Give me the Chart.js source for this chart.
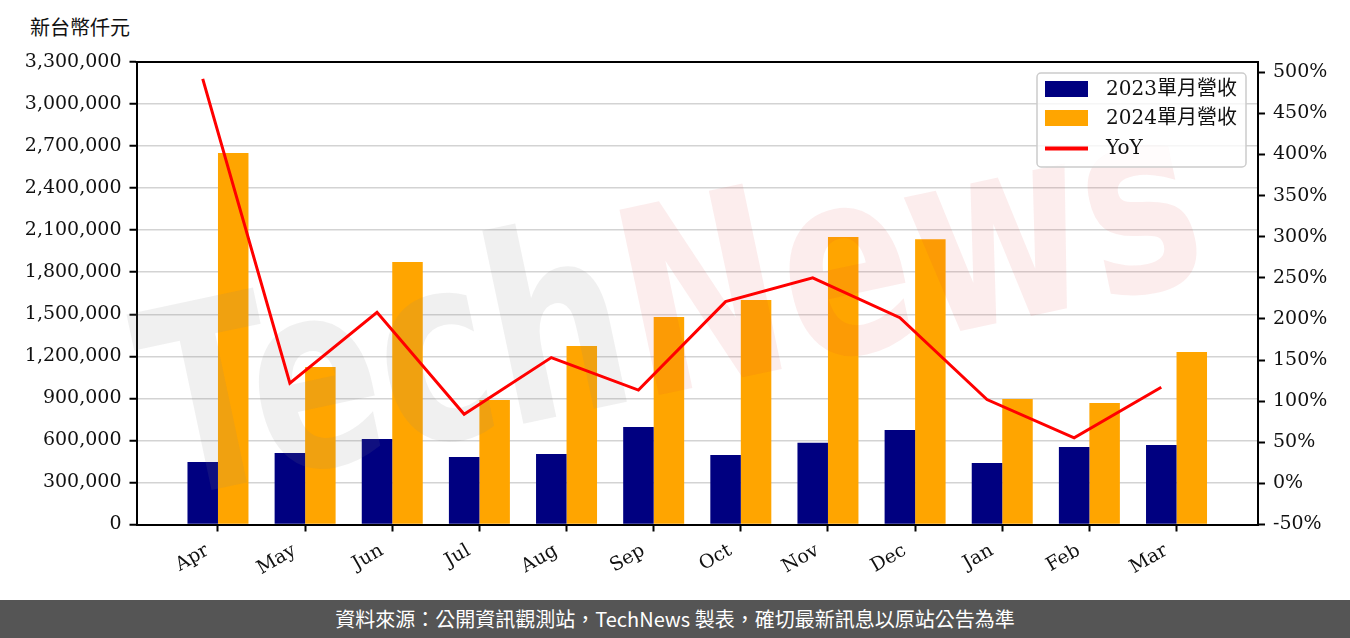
<!DOCTYPE html>
<html lang="zh-Hant">
<head>
<meta charset="UTF-8">
<title>單月營收</title>
<style>
    body { margin: 0; padding: 0; background: #fff; width: 1350px; height: 638px; overflow: hidden; position: relative; }
    #unit {
        position: absolute; left: 30px; top: 12px;
        font: 20px "DejaVu Serif", "Noto Sans CJK TC", serif; color: #111;
    }
    #chart { position: absolute; left: 0; top: 0; }
    footer {
        position: absolute; left: 0; top: 600px; width: 1350px; height: 38px;
        background: #555555; color: #fff; text-align: center;
        font: 20px "Noto Sans CJK TC", "Noto Sans", sans-serif; line-height: 38px;
    }
</style>
<script src="https://cdn.jsdelivr.net/npm/chart.js"></script>
</head>
<body>
<div id="unit">新台幣仟元</div>
<canvas id="chart" width="1350" height="600"></canvas>
<footer>資料來源：公開資訊觀測站，TechNews 製表，確切最新訊息以原站公告為準</footer>

<script>
    const months = ['Apr', 'May', 'Jun', 'Jul', 'Aug', 'Sep', 'Oct', 'Nov', 'Dec', 'Jan', 'Feb', 'Mar'];
    const rev2023 = [446000, 510000, 610000, 482000, 503000, 696000, 496000, 584000, 674000, 439000, 553000, 567000];
    const rev2024 = [2651000, 1124000, 1873000, 888000, 1274000, 1481000, 1602000, 2051000, 2035000, 895000, 867000, 1231000];
    const yoy = [492, 122, 208, 84, 153, 113.5, 221, 250, 201.5, 102, 55.5, 117];

    const FONT = '"DejaVu Serif", "Noto Sans CJK TC", serif';
    const barW = 0.35;   // bar width in category units

    // watermark goes between the bars and the line
    const watermark = {
        id: 'watermark',
        beforeDatasetDraw(chart, args) {
            if (args.meta.type !== 'line') return;
            const c = chart.ctx;
            c.save();
            c.translate(165, 500);
            c.rotate(-12 * Math.PI / 180);
            c.scale(0.74, 1);
            c.font = 'bold 260px "DejaVu Sans"';
            c.fillStyle = 'rgba(128,128,128,0.12)';
            c.fillText('Tech', 0, 0);
            const w = c.measureText('Tech').width;
            c.fillStyle = 'rgba(220,60,60,0.09)';
            c.fillText('News', w, 0);
            c.restore();
        }
    };

    const frame = {
        id: 'frame',
        afterDraw(chart) {
            const c = chart.ctx, a = chart.chartArea;
            c.save();
            c.strokeStyle = '#000';
            c.lineWidth = 2;
            c.beginPath();
            c.moveTo(a.left - 1, a.top);
            c.lineTo(a.right + 1, a.top);
            c.stroke();

            // legend
            const x = 1037, y = 73, w = 209, h = 94, r = 4;
            c.fillStyle = 'rgba(255,255,255,0.8)';
            c.strokeStyle = '#cccccc';
            c.lineWidth = 1.5;
            c.beginPath();
            c.roundRect(x, y, w, h, r);
            c.fill();
            c.stroke();

            c.font = '20px ' + FONT;
            c.textBaseline = 'middle';
            c.textAlign = 'left';
            const rows = [89, 118, 148];
            chart.data.datasets.forEach((ds, i) => {
                const cy = rows[i];
                if (ds.type === 'line') {
                    c.strokeStyle = ds.borderColor;
                    c.lineWidth = 4;
                    c.beginPath();
                    c.moveTo(1045, cy + 0.5);
                    c.lineTo(1088, cy + 0.5);
                    c.stroke();
                } else {
                    c.fillStyle = ds.backgroundColor;
                    c.fillRect(1045, cy - 8, 43, 16);
                }
                c.fillStyle = '#111';
                c.fillText(ds.label, 1106, cy + 1);
            });
            c.restore();
        }
    };

    const ctx = document.getElementById('chart').getContext('2d');
    const chart = new Chart(ctx, {
        type: 'bar',
        data: {
            datasets: [{
                label: '2023單月營收',
                data: rev2023.map((v, i) => ({ x: i, y: v })),
                backgroundColor: '#000080',
                yAxisID: 'y',
                categoryPercentage: 0.7,
                barPercentage: 1.0
            }, {
                label: '2024單月營收',
                data: rev2024.map((v, i) => ({ x: i, y: v })),
                backgroundColor: '#FFA500',
                yAxisID: 'y',
                categoryPercentage: 0.7,
                barPercentage: 1.0
            }, {
                type: 'line',
                label: 'YoY',
                data: yoy.map((v, i) => ({ x: i - barW / 2, y: v })),
                borderColor: '#FF0000',
                borderWidth: 3,
                pointRadius: 0,
                tension: 0,
                yAxisID: 'y1',
                order: -1
            }]
        },
        options: {
            responsive: false,
            animation: false,
            layout: { padding: { top: 62, left: 0, right: 0, bottom: 0 } },
            plugins: {
                legend: { display: false },
                tooltip: { enabled: false }
            },
            scales: {
                x: {
                    type: 'linear',
                    offset: false,
                    min: -0.935,
                    max: 11.935,
                    afterFit(s) { s.height = 75.5; },
                    grid: { offset: false, drawOnChartArea: false, tickLength: 7, tickColor: '#000', tickWidth: 2 },
                    border: { color: '#000', width: 2 },
                    ticks: {
                        stepSize: 1,
                        includeBounds: false,
                        autoSkip: false,
                        maxRotation: 30,
                        minRotation: 30,
                        padding: 2,
                        color: '#111',
                        font: { family: FONT, size: 19 },
                        // trailing spaces pull the rotated label left of the tick
                        callback: v => months[v] !== undefined ? months[v] + '  ' : ''
                    }
                },
                y: {
                    position: 'left',
                    min: 0,
                    max: 3300000,
                    afterFit(s) { s.width = 136.5; },
                    grid: { color: '#d3d3d3', lineWidth: 1.5, tickLength: 7, tickColor: '#000', tickWidth: 2 },
                    border: { color: '#000', width: 2 },
                    ticks: {
                        stepSize: 300000,
                        maxTicksLimit: 20,
                        padding: 8,
                        color: '#111',
                        font: { family: FONT, size: 19 },
                        callback: v => v.toLocaleString('en-US')
                    }
                },
                y1: {
                    position: 'right',
                    min: -50,
                    max: 512.5,
                    afterFit(s) { s.width = 92; },
                    grid: { drawOnChartArea: false, tickLength: 7, tickColor: '#000', tickWidth: 2 },
                    border: { color: '#000', width: 2 },
                    ticks: {
                        stepSize: 50,
                        includeBounds: false,
                        maxTicksLimit: 20,
                        padding: 8,
                        color: '#111',
                        font: { family: FONT, size: 19 },
                        callback: v => v + '%'
                    }
                }
            }
        },
        plugins: [watermark, frame]
    });
</script>
</body>
</html>
